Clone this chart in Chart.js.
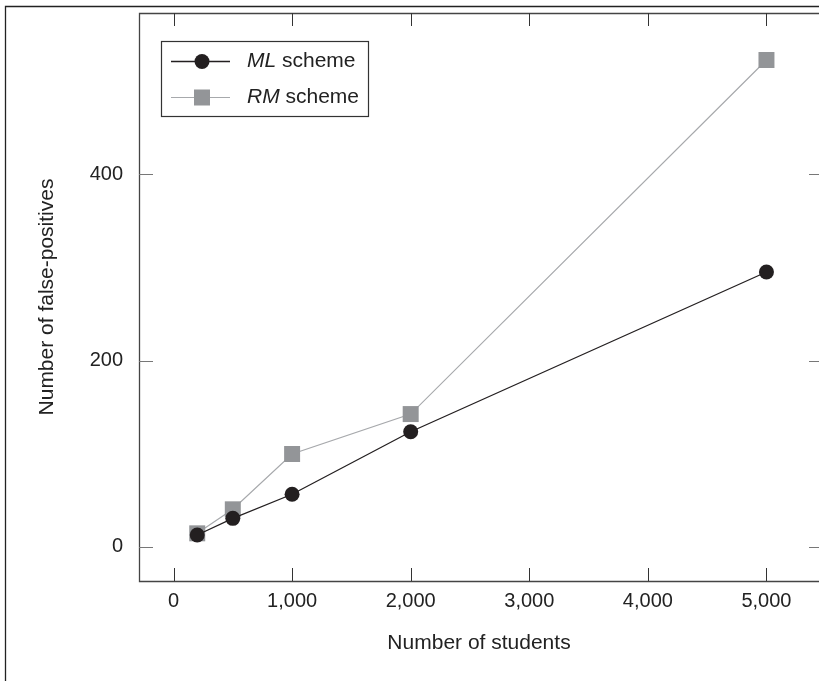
<!DOCTYPE html>
<html>
<head>
<meta charset="utf-8">
<script src="https://cdn.jsdelivr.net/npm/chart.js@4.4.1/dist/chart.umd.min.js"></script>
<style>
  html, body { margin: 0; padding: 0; background: #fff; }
  canvas { display: block; }
</style>
</head>
<body>
<canvas id="chart" width="819" height="681"></canvas>
<script>
// Datos
const students = [200, 500, 1000, 2000, 5000];
const mlScheme = [12.6, 30.5, 56.4, 123.5, 295.1];
const rmScheme = [14.4, 40.2, 99.6, 142.5, 522.8];
const xTicks = [0, 1000, 2000, 3000, 4000, 5000];
const yTicks = [0, 200, 400];
const seriesNames = ['ML', 'RM'];

const FONT = 'Liberation Sans, Arial, Helvetica, sans-serif';
const toPoints = ys => students.map((x, i) => ({ x: x, y: ys[i] }));

// Quitar el relleno automático que Chart.js añade por las etiquetas
function noPadding(s) {
  s.paddingTop = 0; s.paddingBottom = 0;
  s.paddingLeft = 0; s.paddingRight = 0;
}

// Marco, marcas hacia dentro y leyenda
const framePlugin = {
  id: 'frame',
  afterDraw(chart) {
    const ctx = chart.ctx;
    const a = chart.chartArea;
    const xs = chart.scales.x, ys = chart.scales.y;
    ctx.save();

    // marco exterior
    ctx.strokeStyle = '#222';
    ctx.lineWidth = 1.3;
    ctx.beginPath();
    ctx.moveTo(5.5, 681); ctx.lineTo(5.5, 6.5); ctx.lineTo(819, 6.5);
    ctx.stroke();

    // caja del gráfico
    ctx.strokeStyle = '#444';
    ctx.lineWidth = 1.3;
    ctx.beginPath();
    ctx.moveTo(a.right, a.bottom + 0.5); ctx.lineTo(a.left + 0.5, a.bottom + 0.5);
    ctx.lineTo(a.left + 0.5, a.top + 0.5); ctx.lineTo(a.right, a.top + 0.5);
    ctx.stroke();

    // marcas del eje x (abajo y arriba)
    ctx.strokeStyle = '#333';
    ctx.lineWidth = 1;
    xTicks.forEach(v => {
      const px = Math.round(xs.getPixelForValue(v)) + 0.5;
      ctx.beginPath();
      ctx.moveTo(px, a.bottom); ctx.lineTo(px, a.bottom - 13);
      ctx.moveTo(px, a.top); ctx.lineTo(px, a.top + 13);
      ctx.stroke();
    });
    // marcas del eje y (izquierda y derecha)
    ctx.strokeStyle = '#777';
    ctx.lineWidth = 1.2;
    yTicks.forEach(v => {
      const py = Math.round(ys.getPixelForValue(v)) + 0.5;
      ctx.beginPath();
      ctx.moveTo(a.left, py); ctx.lineTo(a.left + 14, py);
      ctx.moveTo(a.right, py); ctx.lineTo(a.right - 10, py);
      ctx.stroke();
    });

    // leyenda
    const box = { x: 161.5, y: 41.5, w: 207, h: 75 };
    ctx.strokeStyle = '#333';
    ctx.lineWidth = 1.2;
    ctx.strokeRect(box.x, box.y, box.w, box.h);
    const rowsY = [61.5, 97.5];
    chart.data.datasets.forEach((ds, i) => {
      const y = rowsY[i];
      ctx.strokeStyle = ds.borderColor;
      ctx.lineWidth = ds.borderWidth;
      ctx.beginPath();
      ctx.moveTo(171, y); ctx.lineTo(230, y);
      ctx.stroke();
      ctx.fillStyle = ds.pointBackgroundColor;
      if (ds.pointStyle === 'rect') {
        ctx.fillRect(194, y - 8, 16, 16);
      } else {
        ctx.beginPath();
        ctx.arc(202, y, ds.pointRadius, 0, Math.PI * 2);
        ctx.fill();
      }
      ctx.fillStyle = '#222';
      ctx.textBaseline = 'middle';
      ctx.textAlign = 'left';
      ctx.font = 'italic 21px ' + FONT;
      ctx.fillText(seriesNames[i], 247, y);
      const w = ctx.measureText(seriesNames[i]).width;
      ctx.font = '21px ' + FONT;
      ctx.fillText(' scheme', 247 + w, y);
    });
    ctx.restore();
  }
};

new Chart(document.getElementById('chart'), {
  type: 'line',
  data: {
    datasets: [
      {
        label: 'ML scheme',
        data: toPoints(mlScheme),
        borderColor: '#231f20',
        borderWidth: 1.3,
        pointStyle: 'circle',
        pointRadius: 7.5,
        pointBackgroundColor: '#231f20',
        pointBorderWidth: 0,
        order: 1
      },
      {
        label: 'RM scheme',
        data: toPoints(rmScheme),
        borderColor: '#a7a9ac',
        borderWidth: 1.2,
        pointStyle: 'rect',
        pointRadius: 11.3,
        pointBackgroundColor: '#939598',
        pointBorderWidth: 0,
        order: 2
      }
    ]
  },
  options: {
    responsive: false,
    animation: false,
    layout: { autoPadding: false, padding: { top: 13, right: 0, left: 0, bottom: 0 } },
    plugins: { legend: { display: false }, tooltip: { enabled: false } },
    scales: {
      x: {
        type: 'linear',
        min: -291,
        max: 5443,
        afterBuildTicks: s => { s.ticks = xTicks.map(v => ({ value: v })); },
        afterFit: s => { s.height = 100; noPadding(s); },
        grid: { display: false, drawTicks: false },
        border: { display: false },
        ticks: {
          padding: 8,
          maxRotation: 0,
          color: '#222',
          font: { family: FONT, size: 20 },
          callback: v => v.toLocaleString('en-US')
        },
        title: {
          display: true,
          text: 'Number of students',
          color: '#222',
          font: { family: FONT, size: 21 },
          padding: { top: 0, bottom: 25 }
        }
      },
      y: {
        type: 'linear',
        min: -36.8,
        max: 573.3,
        afterBuildTicks: s => { s.ticks = yTicks.map(v => ({ value: v })); },
        afterFit: s => { s.width = 139; noPadding(s); },
        grid: { display: false, drawTicks: false },
        border: { display: false },
        ticks: {
          padding: 16,
          color: '#222',
          font: { family: FONT, size: 20 }
        },
        title: {
          display: true,
          text: 'Number of false-positives',
          color: '#222',
          font: { family: FONT, size: 21 },
          padding: { top: 35, bottom: 0 }
        }
      }
    }
  },
  plugins: [framePlugin]
});
</script>
</body>
</html>
